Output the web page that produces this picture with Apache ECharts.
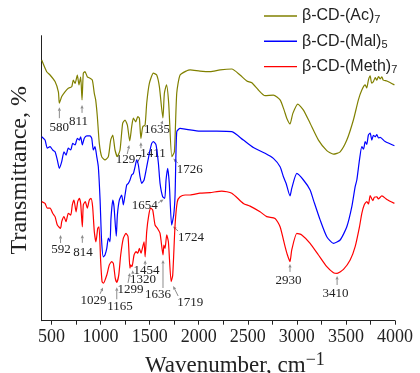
<!DOCTYPE html>
<html><head><meta charset="utf-8">
<script src="https://cdn.jsdelivr.net/npm/echarts@6/dist/echarts.min.js"></script>
<style>html,body{margin:0;padding:0;background:#fff}#chart{width:420px;height:373px}</style>
</head><body><div id="chart"></div>
<script>
// FTIR spectra of the acylated beta-cyclodextrins, stacked with vertical offsets.
// Each point: [wavenumber (cm-1), transmittance (offset, arbitrary %)]
const acSpectrum = [
  [400,86.9],[451,83.0],[485,81.9],[536,79.7],[570,76.3],[580,72.5],[604,74.7],[637,76.3],
  [671,77.5],[706,78.0],[722,80.2],[740,79.1],[763,81.9],[780,78.6],[797,81.3],[811,73.6],
  [824,82.5],[841,83.0],[865,81.3],[892,80.8],[916,80.2],[936,75.8],[950,73.6],[967,68.0],
  [987,59.1],[1011,54.7],[1045,53.6],[1079,54.7],[1103,60.2],[1124,61.9],[1147,56.9],[1171,54.7],
  [1198,56.9],[1225,65.8],[1249,66.9],[1273,65.2],[1297,59.9],[1317,64.7],[1334,67.5],[1358,66.3],
  [1379,68.0],[1395,67.5],[1411,60.8],[1430,64.7],[1453,65.2],[1470,72.5],[1497,79.1],[1538,82.5],
  [1572,81.9],[1599,78.0],[1635,67.6],[1650,75.8],[1672,78.6],[1694,72.5],[1726,54.7],[1752,56.3],
  [1776,75.8],[1810,81.9],[1878,83.3],[1912,83.6],[2013,83.2],[2116,83.0],[2218,83.6],[2337,83.9],
  [2421,81.9],[2490,79.9],[2541,79.3],[2608,76.9],[2676,75.0],[2761,75.2],[2829,73.6],[2870,70.2],
  [2897,67.5],[2930,65.6],[2959,69.1],[3010,72.2],[3067,70.2],[3135,65.8],[3220,60.2],[3305,56.7],
  [3373,55.5],[3441,56.3],[3509,60.2],[3576,66.9],[3627,73.6],[3662,76.9],[3696,78.6],[3712,77.6],
  [3729,80.2],[3747,81.6],[3762,79.2],[3780,79.7],[3798,81.0],[3815,80.2],[3832,81.4],[3850,80.6],
  [3866,81.3],[3880,80.2],[3917,79.9],[3994,78.6]
];
const malSpectrum = [
  [400,61.3],[434,60.2],[457,57.5],[485,58.0],[512,56.9],[536,56.3],[559,53.6],[580,50.8],
  [604,53.0],[627,56.3],[648,55.2],[671,57.5],[696,56.9],[716,59.1],[740,58.6],[763,60.8],
  [783,60.2],[797,61.3],[814,58.6],[834,60.8],[859,61.6],[892,61.6],[910,60.8],[926,56.9],
  [943,58.0],[961,54.7],[977,51.3],[995,40.2],[1010,26.9],[1028,21.3],[1045,21.9],[1063,24.1],
  [1079,27.5],[1096,26.3],[1106,34.1],[1124,40.2],[1137,38.0],[1160,28.2],[1171,35.2],[1191,40.2],
  [1215,41.9],[1232,38.6],[1249,41.9],[1266,45.2],[1283,45.8],[1300,46.9],[1317,48.6],[1334,49.1],
  [1351,51.3],[1368,53.6],[1385,51.9],[1402,48.0],[1419,45.8],[1443,46.9],[1470,51.3],[1497,55.8],
  [1521,59.1],[1538,59.7],[1565,58.6],[1589,52.5],[1606,45.8],[1633,41.3],[1654,40.8],[1667,46.9],
  [1684,50.8],[1700,45.8],[1724,31.9],[1745,35.2],[1759,41.9],[1776,63.0],[1810,64.1],[1878,63.8],
  [2013,63.2],[2184,63.2],[2337,63.0],[2455,60.2],[2557,57.7],[2676,55.8],[2761,54.1],[2829,51.3],
  [2863,48.0],[2890,45.8],[2930,41.6],[2948,44.1],[3000,49.1],[3067,46.9],[3135,43.6],[3169,40.2],
  [3237,33.6],[3305,28.0],[3373,25.8],[3441,26.9],[3509,31.3],[3560,38.0],[3594,44.7],[3611,46.9],
  [3638,53.6],[3662,58.0],[3680,57.2],[3696,59.7],[3712,58.8],[3729,61.9],[3747,62.5],[3764,60.2],
  [3780,61.8],[3798,61.3],[3815,62.0],[3832,60.9],[3849,61.1],[3900,59.7],[3994,58.3]
];
const methSpectrum = [
  [400,39.7],[434,39.1],[457,37.5],[485,37.5],[512,35.8],[536,34.7],[559,31.9],[592,30.8],
  [604,33.0],[627,34.7],[648,33.0],[671,35.8],[696,35.2],[712,38.6],[729,40.2],[750,36.3],
  [767,39.7],[783,40.8],[797,39.1],[814,31.3],[824,38.6],[844,39.7],[865,37.5],[885,40.2],
  [902,40.8],[919,38.0],[936,29.7],[953,26.3],[971,30.8],[984,31.3],[1001,19.7],[1015,13.0],
  [1029,12.5],[1063,15.2],[1089,18.6],[1113,19.7],[1130,19.1],[1150,14.1],[1165,12.8],[1185,15.2],
  [1205,21.9],[1232,27.5],[1259,29.1],[1280,28.0],[1299,17.5],[1307,18.6],[1320,18.0],[1341,21.9],
  [1361,23.0],[1379,22.5],[1395,24.1],[1412,22.5],[1430,24.7],[1443,26.3],[1454,21.3],[1470,29.7],
  [1491,35.2],[1511,37.5],[1531,36.9],[1555,31.9],[1579,30.8],[1606,29.1],[1636,21.9],[1645,25.2],
  [1657,24.1],[1674,28.6],[1691,26.3],[1719,13.0],[1735,15.2],[1759,31.9],[1782,39.7],[1810,41.3],
  [1861,41.9],[1912,41.9],[2013,42.5],[2116,42.7],[2235,43.2],[2337,42.5],[2455,39.1],[2523,38.2],
  [2625,36.3],[2693,34.7],[2778,34.1],[2829,31.3],[2880,24.7],[2904,21.9],[2930,19.7],[2948,23.6],
  [3000,29.1],[3050,28.6],[3135,25.8],[3220,21.9],[3305,18.0],[3373,16.0],[3410,15.8],[3475,17.1],
  [3543,20.2],[3594,24.7],[3638,31.3],[3662,35.8],[3686,38.6],[3713,39.7],[3730,38.9],[3747,41.7],
  [3774,40.0],[3790,41.2],[3815,41.3],[3830,40.6],[3866,41.6],[3917,40.4],[3994,39.1]
];

const seriesNames = ['β-CD-(Ac)7', 'β-CD-(Mal)5', 'β-CD-(Meth)7'];
const seriesColors = ['#808000', '#0000ff', '#ff0000'];

// Labelled absorption bands (cm-1) for each spectrum
const acPeaks = [580, 811, 1297, 1411, 1635, 1726];
const malPeaks = [1654, 1724];
const methPeaks = [592, 814, 1029, 1165, 1299, 1320, 1454, 1636, 1719, 2930, 3410];

// Axis ticks
const xLabelValues = [500, 1000, 1500, 2000, 2500, 3000, 3500, 4000];
const xTickValues = [500, 750, 1000, 1250, 1500, 1750, 2000, 2250, 2500, 2750, 3000, 3250, 3500, 3750, 4000];

// Placement of each band label relative to its band, in px:
// [label dx, label dy, arrow tail dx, tail dy, arrow head dx, head dy]
const acLayout = [
  [0, 24, 0, 15, 0, 4], [-3.5, 21.5, 0, 13, 0, 5], [-1, 18.5, -2.5, 13, -0.5, 4],
  [12, 15, 0, 10, 0, 4], [-6, 12, -1.5, 6.5, 0, 2.5], [18, 12.5, 6, 6.5, 1.5, 2]
];
const malLayout = [
  [-20, 7.7, -6.7, 4.7, -1.2, 1.2], [19.4, 12.5, 6.4, 6, 1.4, 1.5]
];
const methLayout = [
  [0.5, 21.7, 0, 14.7, 0, 6.7], [0.7, 25.8, 0, 16, 0, 8], [-10, 17.2, -3.4, 10.7, -0.4, 4.2],
  [3.3, 24.2, 0, 17, 0, 5], [0.6, 21.7, -1.9, 14.7, 0, 4.7], [11, 13.3, 1, 7.5, 0.5, 3.5],
  [1.4, 13.3, 0, 8.5, 0, 3.5], [-5, 39.5, 0, 33, 0, 5], [19, 20.8, 7, 14.3, 2, 4.3],
  [-1.4, 19.3, 0, 10.3, 0, 2.3], [-1.5, 20.7, 0, 11.7, 0, 2.7]
];

function bandMarks(spectrum, peaks, layout) {
  return peaks.map(function (w, i) {
    const pt = spectrum.find(function (p) { return p[0] === w; });
    return { value: [w, pt[1]], layout: layout[i] };
  });
}
const bandData = [].concat(
  bandMarks(acSpectrum, acPeaks, acLayout),
  bandMarks(malSpectrum, malPeaks, malLayout),
  bandMarks(methSpectrum, methPeaks, methLayout)
);

function renderBand(params, api) {
  const item = bandData[params.dataIndex];
  const p = api.coord([api.value(0), api.value(1)]);
  const L = item.layout;
  const x1 = p[0] + L[2], y1 = p[1] + L[3];
  const x2 = p[0] + L[4], y2 = p[1] + L[5];
  const dx = x2 - x1, dy = y2 - y1;
  const len = Math.sqrt(dx * dx + dy * dy) || 1;
  const ux = dx / len, uy = dy / len;
  const head = 3.5, half = 1.6;
  const bx = x2 - ux * head, by = y2 - uy * head;
  return {
    type: 'group',
    children: [
      { type: 'line', shape: { x1: x1, y1: y1, x2: bx, y2: by },
        style: { stroke: '#8c8c8c', lineWidth: 1 } },
      { type: 'polygon', shape: { points: [[x2, y2], [bx - uy * half, by + ux * half], [bx + uy * half, by - ux * half]] },
        style: { fill: '#8c8c8c' } },
      { type: 'text', style: { x: p[0] + L[0], y: p[1] + L[1], text: String(api.value(0)),
        align: 'center', verticalAlign: 'middle', fontFamily: 'Liberation Serif', fontSize: 13, fill: '#222' } }
    ]
  };
}

function legendLabel(name) {
  const m = name.match(/^(.*\))(\d+)$/);
  return '{n|' + m[1] + '}{s|' + m[2] + '}';
}

const chart = echarts.init(document.getElementById('chart'), null, { renderer: 'canvas' });
chart.setOption({
  animation: false,
  backgroundColor: '#fff',
  grid: { left: 41.7, right: 25, top: 35.7, bottom: 52.3, containLabel: false, outerBoundsMode: 'none' },
  legend: {
    orient: 'vertical', left: 264, top: 7, itemWidth: 33, itemHeight: 1.4, itemGap: 7.3,
    padding: 0,
    data: seriesNames.map(function (n) { return { name: n, icon: 'rect' }; }),
    formatter: legendLabel,
    textStyle: {
      color: '#222',
      rich: {
        n: { fontFamily: 'Liberation Sans', fontSize: 16, lineHeight: 16, color: '#222' },
        s: { fontFamily: 'Liberation Sans', fontSize: 11, lineHeight: 16, color: '#222', padding: [7, 0, 0, 0] }
      }
    }
  },
  xAxis: {
    type: 'value', min: 400, max: 4000,
    name: '{a|Wavenumber, cm}{b|−1}', nameLocation: 'middle', nameGap: 29,
    nameTextStyle: {
      padding: [0, 0, 0, 33],
      rich: {
        a: { fontFamily: 'Liberation Serif', fontSize: 23, color: '#222', lineHeight: 24 },
        b: { fontFamily: 'Liberation Serif', fontSize: 18, color: '#222', lineHeight: 24, padding: [0, 0, 11, 0] }
      }
    },
    axisLine: { show: true, lineStyle: { color: '#222', width: 1 } },
    axisTick: { show: true, inside: false, length: 4, customValues: xTickValues, lineStyle: { color: '#222' } },
    axisLabel: { customValues: xLabelValues, margin: 8, fontFamily: 'Liberation Serif', fontSize: 18, color: '#222',
      formatter: function (v) { return String(v); } },
    splitLine: { show: false }
  },
  yAxis: {
    type: 'value', min: 0, max: 95,
    name: 'Transmittance, %', nameLocation: 'middle', nameGap: 10, nameRotate: 90,
    nameTextStyle: { fontFamily: 'Liberation Serif', fontSize: 24, color: '#222', padding: [0, 0, 0, 16] },
    axisLine: { show: true, lineStyle: { color: '#222', width: 1 } },
    axisTick: { show: false }, axisLabel: { show: false }, splitLine: { show: false }
  },
  series: [
    { name: seriesNames[0], type: 'line', data: acSpectrum, showSymbol: false, smooth: 0.2,
      lineStyle: { color: seriesColors[0], width: 1.2 }, itemStyle: { color: seriesColors[0] } },
    { name: seriesNames[1], type: 'line', data: malSpectrum, showSymbol: false, smooth: 0.2,
      lineStyle: { color: seriesColors[1], width: 1.2 }, itemStyle: { color: seriesColors[1] } },
    { name: seriesNames[2], type: 'line', data: methSpectrum, showSymbol: false, smooth: 0.2,
      lineStyle: { color: seriesColors[2], width: 1.2 }, itemStyle: { color: seriesColors[2] } },
    { name: 'bands', type: 'custom', renderItem: renderBand, clip: false, silent: true,
      data: bandData.map(function (d) { return d.value; }), encode: { x: 0, y: 1 } }
  ]
});
</script></body></html>
